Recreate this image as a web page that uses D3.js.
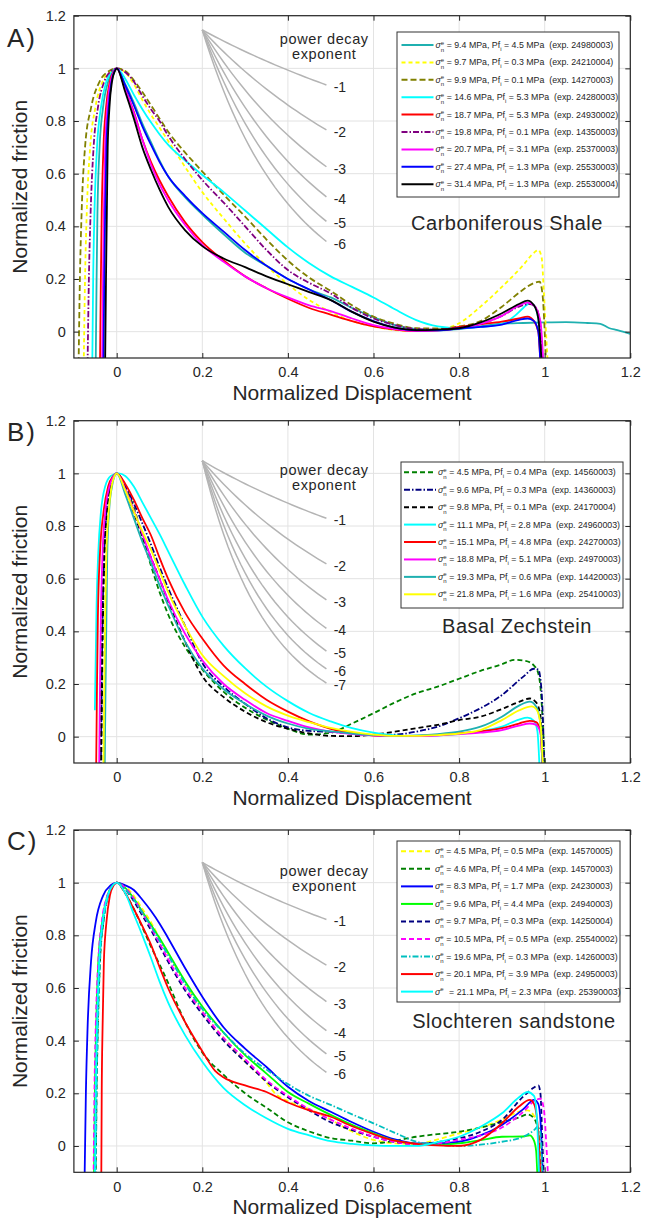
<!DOCTYPE html>
<html><head><meta charset="utf-8">
<script src="https://cdn.jsdelivr.net/npm/d3@7"></script>
<style>
body{margin:0;background:#fff}
svg{display:block}
text{font-family:"Liberation Sans",Arial,Helvetica,sans-serif;fill:#262626}
</style>
</head><body>
<svg id="chart" width="646" height="1223"></svg>
<script>
// ---------------- DATA ----------------
const xTicks = [0, 0.2, 0.4, 0.6, 0.8, 1, 1.2];
const xTickLabels = ["0", "0.2", "0.4", "0.6", "0.8", "1", "1.2"];
const yTicks = [0, 0.2, 0.4, 0.6, 0.8, 1, 1.2];
const yTickLabels = ["0", "0.2", "0.4", "0.6", "0.8", "1", "1.2"];
const panelLetters = ["A)", "B)", "C)"];
const rockNames = ["Carboniferous Shale", "Basal Zechstein", "Slochteren sandstone"];
const xTitle = "Normalized Displacement";
const yTitle = "Normalized friction";

// power decay reference curves: exponents, start value at x = 0.2, and offset scale
const decayExpShale = [-1, -2, -3, -4, -5, -6];
const decayExpZech = [-1, -2, -3, -4, -5, -6, -7];
const decayExpSloch = [-1, -2, -3, -4, -5, -6];
const decayStart = [1.146, 1.048, 1.077];
const decayScale = [1.3, 1.1, 1.15];

// Carboniferous Shale
const shaleSigma = [9.4, 9.7, 9.9, 14.6, 18.7, 19.8, 20.7, 27.4, 31.4];
const shalePf = [4.5, 0.3, 0.1, 5.3, 5.3, 0.1, 3.1, 1.3, 1.3];
const shaleExp = ["24980003","24210004","14270003","24280003","24930002","14350003","25370003","25530003","25530004"];
const shaleCurves = [
 [[-0.049,-0.12],[-0.047,0.2],[-0.045,0.45],[-0.04,0.7],[-0.032,0.85],[-0.02,0.95],[-0.008,0.99],[0,1],[0.02,0.94],[0.04,0.87],[0.06,0.79],[0.08,0.72],[0.1,0.65],[0.12,0.59],[0.16,0.51],[0.2,0.445],[0.25,0.37],[0.3,0.3],[0.35,0.25],[0.4,0.2],[0.45,0.16],[0.5,0.13],[0.55,0.09],[0.6,0.055],[0.65,0.025],[0.7,0.01],[0.75,0.005],[0.8,0.01],[0.85,0.02],[0.9,0.03],[0.95,0.033],[1,0.035],[1.05,0.036],[1.1,0.033],[1.13,0.03],[1.15,0.014],[1.17,0.006],[1.2,-0.008]],
 [[-0.077,-0.12],[-0.074,0.2],[-0.07,0.45],[-0.062,0.7],[-0.05,0.85],[-0.033,0.95],[-0.015,0.99],[0,1],[0.02,0.985],[0.04,0.94],[0.06,0.88],[0.08,0.825],[0.1,0.775],[0.12,0.725],[0.14,0.675],[0.16,0.625],[0.2,0.53],[0.25,0.43],[0.3,0.335],[0.35,0.25],[0.4,0.18],[0.45,0.12],[0.5,0.075],[0.55,0.04],[0.6,0.02],[0.65,0.006],[0.7,0.002],[0.75,0.008],[0.8,0.032],[0.85,0.095],[0.9,0.17],[0.95,0.253],[0.975,0.3],[0.985,0.31],[0.993,0.28],[0.998,0.15],[1.003,0],[1.007,-0.12]],
 [[-0.089,-0.12],[-0.086,0.2],[-0.082,0.45],[-0.074,0.7],[-0.06,0.85],[-0.04,0.95],[-0.018,0.99],[0,1],[0.02,0.99],[0.04,0.955],[0.06,0.91],[0.08,0.86],[0.1,0.81],[0.12,0.76],[0.16,0.68],[0.2,0.608],[0.25,0.52],[0.3,0.437],[0.35,0.35],[0.4,0.27],[0.45,0.205],[0.5,0.155],[0.55,0.1],[0.6,0.057],[0.65,0.03],[0.7,0.013],[0.75,0.012],[0.8,0.02],[0.85,0.04],[0.9,0.095],[0.95,0.16],[0.975,0.185],[0.988,0.19],[0.995,0.14],[1,0],[1.003,-0.12]],
 [[-0.057,-0.12],[-0.055,0.2],[-0.052,0.45],[-0.046,0.7],[-0.037,0.85],[-0.024,0.95],[-0.01,0.99],[0,1],[0.02,0.96],[0.04,0.9],[0.06,0.845],[0.08,0.795],[0.1,0.75],[0.12,0.71],[0.16,0.65],[0.2,0.595],[0.25,0.53],[0.3,0.46],[0.35,0.39],[0.4,0.32],[0.45,0.26],[0.5,0.21],[0.55,0.17],[0.6,0.13],[0.65,0.085],[0.7,0.044],[0.75,0.02],[0.8,0.013],[0.85,0.018],[0.9,0.03],[0.93,0.06],[0.95,0.09],[0.965,0.108],[0.975,0.1],[0.985,0.05],[0.99,-0.05],[0.993,-0.12]],
 [[-0.039,-0.12],[-0.037,0.2],[-0.035,0.45],[-0.031,0.7],[-0.025,0.85],[-0.016,0.95],[-0.007,0.99],[0,1],[0.02,0.92],[0.04,0.835],[0.06,0.73],[0.08,0.645],[0.1,0.575],[0.12,0.515],[0.16,0.415],[0.2,0.34],[0.25,0.27],[0.3,0.21],[0.35,0.165],[0.4,0.125],[0.45,0.09],[0.5,0.065],[0.55,0.04],[0.6,0.02],[0.65,0.008],[0.7,0.002],[0.75,0.005],[0.8,0.018],[0.85,0.028],[0.9,0.038],[0.94,0.05],[0.96,0.057],[0.975,0.04],[0.985,0],[0.99,-0.12]],
 [[-0.068,-0.12],[-0.065,0.2],[-0.061,0.45],[-0.054,0.7],[-0.044,0.85],[-0.029,0.95],[-0.013,0.99],[0,1],[0.02,0.985],[0.04,0.95],[0.06,0.895],[0.08,0.845],[0.1,0.8],[0.12,0.745],[0.16,0.655],[0.2,0.576],[0.25,0.49],[0.3,0.4],[0.35,0.31],[0.4,0.234],[0.45,0.185],[0.5,0.145],[0.55,0.09],[0.6,0.05],[0.65,0.025],[0.7,0.01],[0.75,0.008],[0.8,0.015],[0.85,0.03],[0.9,0.06],[0.94,0.095],[0.965,0.105],[0.98,0.09],[0.99,0.02],[0.995,-0.12]],
 [[-0.034,-0.12],[-0.032,0.2],[-0.03,0.45],[-0.027,0.7],[-0.022,0.85],[-0.014,0.95],[-0.006,0.99],[0,1],[0.02,0.92],[0.04,0.83],[0.06,0.73],[0.08,0.635],[0.1,0.56],[0.12,0.5],[0.16,0.405],[0.2,0.33],[0.25,0.265],[0.3,0.21],[0.35,0.165],[0.4,0.13],[0.45,0.1],[0.5,0.078],[0.55,0.05],[0.6,0.025],[0.65,0.01],[0.7,0.003],[0.75,0.005],[0.8,0.013],[0.85,0.03],[0.9,0.06],[0.94,0.1],[0.96,0.11],[0.975,0.1],[0.99,0.04],[0.997,-0.12]],
 [[-0.031,-0.12],[-0.029,0.2],[-0.027,0.45],[-0.024,0.7],[-0.019,0.85],[-0.012,0.95],[-0.005,0.99],[0,1],[0.02,0.935],[0.04,0.86],[0.06,0.78],[0.08,0.71],[0.1,0.645],[0.12,0.59],[0.16,0.515],[0.2,0.45],[0.25,0.38],[0.3,0.31],[0.35,0.25],[0.4,0.2],[0.45,0.16],[0.5,0.12],[0.55,0.075],[0.6,0.04],[0.65,0.015],[0.7,0.005],[0.75,0.005],[0.8,0.012],[0.85,0.018],[0.9,0.027],[0.94,0.045],[0.96,0.05],[0.975,0.04],[0.985,0],[0.99,-0.12]],
 [[-0.027,-0.12],[-0.025,0.2],[-0.023,0.45],[-0.021,0.7],[-0.017,0.85],[-0.011,0.95],[-0.004,0.99],[0,1],[0.02,0.91],[0.04,0.81],[0.06,0.7],[0.08,0.615],[0.1,0.54],[0.12,0.475],[0.16,0.385],[0.2,0.325],[0.25,0.278],[0.3,0.245],[0.35,0.21],[0.4,0.18],[0.45,0.15],[0.5,0.12],[0.55,0.075],[0.6,0.038],[0.65,0.015],[0.7,0.006],[0.75,0.008],[0.8,0.013],[0.85,0.035],[0.9,0.07],[0.94,0.105],[0.96,0.118],[0.975,0.1],[0.985,0.05],[0.993,-0.12]]
];

// Basal Zechstein
const zechSigma = [4.5, 9.6, 9.8, 11.1, 15.1, 18.8, 19.3, 21.8];
const zechPf = [0.4, 0.3, 0.1, 2.8, 4.8, 5.1, 0.6, 1.6];
const zechExp = ["14560003","14360003","24170004","24960003","24270003","24970003","14420003","25410003"];
const zechCurves = [
 [[-0.039,-0.12],[-0.037,0.2],[-0.035,0.45],[-0.031,0.7],[-0.025,0.85],[-0.016,0.95],[-0.007,0.99],[0,1],[0.02,0.95],[0.04,0.87],[0.06,0.76],[0.08,0.65],[0.1,0.55],[0.12,0.465],[0.16,0.34],[0.2,0.255],[0.25,0.17],[0.3,0.11],[0.35,0.065],[0.4,0.03],[0.45,0.008],[0.5,0.015],[0.55,0.05],[0.6,0.089],[0.65,0.13],[0.7,0.165],[0.75,0.19],[0.8,0.22],[0.85,0.25],[0.9,0.275],[0.93,0.292],[0.955,0.288],[0.975,0.27],[0.985,0.24],[0.992,0.15],[0.997,0],[1,-0.12]],
 [[-0.037,-0.12],[-0.035,0.2],[-0.033,0.45],[-0.029,0.7],[-0.024,0.85],[-0.015,0.95],[-0.006,0.99],[0,1],[0.02,0.955],[0.04,0.886],[0.06,0.81],[0.08,0.73],[0.1,0.645],[0.12,0.565],[0.16,0.42],[0.2,0.28],[0.25,0.19],[0.3,0.125],[0.35,0.07],[0.4,0.035],[0.45,0.022],[0.5,0.018],[0.55,0.012],[0.6,0.006],[0.65,0.008],[0.7,0.019],[0.75,0.038],[0.8,0.07],[0.85,0.108],[0.9,0.158],[0.95,0.228],[0.975,0.258],[0.985,0.255],[0.99,0.22],[0.995,0.1],[0.999,-0.12]],
 [[-0.036,-0.12],[-0.034,0.2],[-0.032,0.45],[-0.028,0.7],[-0.023,0.85],[-0.015,0.95],[-0.006,0.99],[0,1],[0.02,0.94],[0.04,0.85],[0.06,0.76],[0.08,0.68],[0.1,0.6],[0.12,0.515],[0.16,0.36],[0.2,0.23],[0.25,0.15],[0.3,0.095],[0.35,0.055],[0.4,0.03],[0.45,0.012],[0.5,0.003],[0.55,0.002],[0.6,0.008],[0.65,0.019],[0.7,0.032],[0.75,0.045],[0.8,0.063],[0.85,0.076],[0.9,0.105],[0.94,0.132],[0.965,0.145],[0.98,0.13],[0.99,0.08],[0.995,-0.12]],
 [[-0.051,0.1],[-0.049,0.3],[-0.047,0.5],[-0.043,0.7],[-0.037,0.85],[-0.027,0.95],[-0.014,0.99],[0.004,1],[0.02,0.99],[0.04,0.95],[0.06,0.89],[0.08,0.83],[0.1,0.77],[0.12,0.705],[0.16,0.575],[0.2,0.456],[0.25,0.345],[0.3,0.26],[0.35,0.19],[0.4,0.135],[0.45,0.09],[0.5,0.058],[0.55,0.032],[0.6,0.015],[0.65,0.005],[0.7,0.003],[0.75,0.005],[0.8,0.01],[0.85,0.02],[0.9,0.038],[0.94,0.065],[0.96,0.072],[0.975,0.06],[0.983,0.02],[0.988,-0.12]],
 [[-0.048,-0.12],[-0.046,0.2],[-0.044,0.45],[-0.039,0.7],[-0.031,0.85],[-0.02,0.95],[-0.008,0.99],[0,1],[0.02,0.96],[0.04,0.9],[0.06,0.83],[0.08,0.765],[0.1,0.68],[0.12,0.6],[0.16,0.47],[0.2,0.373],[0.25,0.27],[0.3,0.2],[0.35,0.14],[0.4,0.095],[0.45,0.058],[0.5,0.03],[0.55,0.014],[0.6,0.004],[0.65,0.002],[0.7,0.003],[0.75,0.007],[0.8,0.013],[0.85,0.02],[0.9,0.032],[0.94,0.05],[0.965,0.06],[0.98,0.055],[0.99,0.02],[0.995,-0.12]],
 [[-0.041,-0.12],[-0.039,0.2],[-0.037,0.45],[-0.033,0.7],[-0.027,0.85],[-0.017,0.95],[-0.007,0.99],[0,1],[0.02,0.94],[0.04,0.86],[0.06,0.77],[0.08,0.68],[0.1,0.6],[0.12,0.52],[0.16,0.39],[0.2,0.29],[0.25,0.2],[0.3,0.14],[0.35,0.09],[0.4,0.06],[0.45,0.035],[0.5,0.019],[0.55,0.01],[0.6,0.005],[0.65,0.002],[0.7,0.002],[0.75,0.004],[0.8,0.01],[0.85,0.015],[0.9,0.025],[0.94,0.042],[0.965,0.05],[0.98,0.045],[0.99,0.015],[0.995,-0.12]],
 [[-0.028,-0.12],[-0.026,0.2],[-0.024,0.45],[-0.022,0.7],[-0.018,0.85],[-0.011,0.95],[-0.005,0.99],[0,1],[0.02,0.92],[0.04,0.83],[0.06,0.74],[0.08,0.66],[0.1,0.575],[0.12,0.5],[0.16,0.36],[0.2,0.26],[0.25,0.18],[0.3,0.125],[0.35,0.08],[0.4,0.05],[0.45,0.03],[0.5,0.02],[0.55,0.012],[0.6,0.006],[0.65,0.003],[0.7,0.005],[0.75,0.01],[0.8,0.019],[0.85,0.038],[0.9,0.076],[0.94,0.118],[0.965,0.133],[0.98,0.115],[0.99,0.05],[0.995,-0.12]],
 [[-0.031,-0.12],[-0.029,0.2],[-0.027,0.45],[-0.024,0.7],[-0.019,0.85],[-0.012,0.95],[-0.005,0.99],[0,1],[0.02,0.935],[0.04,0.855],[0.06,0.78],[0.08,0.71],[0.1,0.63],[0.12,0.55],[0.16,0.42],[0.2,0.31],[0.25,0.23],[0.3,0.165],[0.35,0.115],[0.4,0.08],[0.45,0.055],[0.5,0.033],[0.55,0.018],[0.6,0.008],[0.65,0.003],[0.7,0.003],[0.75,0.006],[0.8,0.012],[0.85,0.025],[0.9,0.063],[0.94,0.1],[0.97,0.115],[0.98,0.105],[0.99,0.05],[0.996,-0.12]]
];

// Slochteren sandstone
const slochSigma = [4.5, 4.6, 8.3, 9.6, 9.7, 10.5, 19.6, 20.1, 21.1];
const slochPf = [0.5, 0.4, 1.7, 4.4, 0.3, 0.5, 0.3, 3.9, 2.3];
const slochExp = ["14570005","14570003","24230003","24940003","14250004","25540002","14260003","24950003","25390003"];
const slochCurves = [
 [[-0.051,-0.12],[-0.049,0.2],[-0.046,0.45],[-0.041,0.7],[-0.033,0.85],[-0.021,0.95],[-0.009,0.99],[0,1],[0.02,0.985],[0.04,0.95],[0.06,0.9],[0.08,0.85],[0.1,0.79],[0.12,0.73],[0.16,0.62],[0.2,0.51],[0.25,0.41],[0.3,0.32],[0.35,0.24],[0.37,0.2],[0.4,0.17],[0.45,0.14],[0.5,0.1],[0.55,0.055],[0.6,0.023],[0.65,0.01],[0.7,0.008],[0.75,0.025],[0.8,0.048],[0.85,0.07],[0.9,0.1],[0.94,0.13],[0.96,0.135],[0.975,0.115],[0.985,0.06],[0.993,-0.12]],
 [[-0.049,-0.12],[-0.047,0.2],[-0.044,0.45],[-0.039,0.7],[-0.031,0.85],[-0.02,0.95],[-0.008,0.99],[0,1],[0.02,0.96],[0.04,0.9],[0.06,0.83],[0.08,0.757],[0.1,0.69],[0.12,0.62],[0.16,0.47],[0.2,0.355],[0.25,0.27],[0.3,0.2],[0.35,0.145],[0.4,0.09],[0.45,0.055],[0.5,0.03],[0.55,0.02],[0.6,0.01],[0.65,0.02],[0.7,0.035],[0.75,0.045],[0.8,0.054],[0.85,0.07],[0.9,0.09],[0.94,0.108],[0.96,0.12],[0.975,0.105],[0.985,0.05],[0.99,-0.12]],
 [[-0.075,-0.12],[-0.072,0.2],[-0.068,0.45],[-0.06,0.7],[-0.049,0.85],[-0.032,0.95],[-0.014,0.99],[0,1],[0.02,0.99],[0.04,0.972],[0.06,0.935],[0.08,0.893],[0.1,0.845],[0.12,0.79],[0.16,0.675],[0.2,0.567],[0.25,0.45],[0.3,0.37],[0.35,0.3],[0.4,0.225],[0.45,0.17],[0.5,0.13],[0.55,0.09],[0.6,0.054],[0.65,0.025],[0.7,0.01],[0.75,0.01],[0.8,0.016],[0.85,0.04],[0.9,0.08],[0.95,0.14],[0.975,0.175],[0.985,0.16],[0.99,0.1],[0.996,-0.12]],
 [[-0.053,-0.12],[-0.051,0.2],[-0.048,0.45],[-0.043,0.7],[-0.034,0.85],[-0.022,0.95],[-0.009,0.99],[0,1],[0.02,0.98],[0.04,0.94],[0.06,0.89],[0.08,0.84],[0.1,0.79],[0.12,0.735],[0.16,0.625],[0.2,0.53],[0.25,0.43],[0.3,0.345],[0.35,0.275],[0.4,0.205],[0.45,0.16],[0.5,0.118],[0.55,0.08],[0.6,0.048],[0.65,0.02],[0.7,0.008],[0.75,0.005],[0.8,0.01],[0.85,0.022],[0.9,0.035],[0.95,0.036],[0.965,0.04],[0.975,0.02],[0.98,-0.02],[0.983,-0.12]],
 [[-0.051,-0.12],[-0.049,0.2],[-0.046,0.45],[-0.041,0.7],[-0.033,0.85],[-0.021,0.95],[-0.009,0.99],[0,1],[0.02,0.975],[0.04,0.93],[0.06,0.875],[0.08,0.82],[0.1,0.76],[0.12,0.7],[0.16,0.59],[0.2,0.5],[0.25,0.4],[0.3,0.32],[0.35,0.245],[0.4,0.185],[0.45,0.135],[0.5,0.09],[0.55,0.06],[0.6,0.035],[0.65,0.015],[0.7,0.007],[0.75,0.015],[0.8,0.029],[0.85,0.054],[0.9,0.099],[0.95,0.188],[0.975,0.222],[0.985,0.23],[0.99,0.2],[0.995,0],[0.998,-0.12]],
 [[-0.054,-0.12],[-0.052,0.2],[-0.049,0.45],[-0.043,0.7],[-0.035,0.85],[-0.022,0.95],[-0.009,0.99],[0,1],[0.02,0.98],[0.04,0.94],[0.06,0.885],[0.08,0.83],[0.1,0.77],[0.12,0.71],[0.16,0.6],[0.2,0.51],[0.25,0.41],[0.3,0.33],[0.35,0.25],[0.4,0.19],[0.45,0.14],[0.5,0.1],[0.55,0.065],[0.6,0.035],[0.65,0.015],[0.7,0.006],[0.75,0.01],[0.8,0.023],[0.85,0.04],[0.9,0.07],[0.95,0.13],[0.975,0.17],[0.99,0.18],[0.998,0.14],[1.004,0],[1.008,-0.12]],
 [[-0.049,-0.12],[-0.047,0.2],[-0.044,0.45],[-0.039,0.7],[-0.031,0.85],[-0.02,0.95],[-0.008,0.99],[0,1],[0.02,0.975],[0.04,0.935],[0.06,0.885],[0.08,0.835],[0.1,0.78],[0.12,0.725],[0.16,0.615],[0.2,0.52],[0.25,0.43],[0.3,0.35],[0.35,0.29],[0.4,0.235],[0.45,0.19],[0.5,0.156],[0.55,0.12],[0.6,0.086],[0.65,0.05],[0.7,0.016],[0.75,0.005],[0.8,0],[0.85,0.005],[0.9,0.016],[0.95,0.035],[0.975,0.06],[0.985,0.075],[0.99,0.05],[0.995,-0.12]],
 [[-0.036,-0.12],[-0.035,0.2],[-0.033,0.45],[-0.03,0.7],[-0.024,0.85],[-0.016,0.95],[-0.007,0.99],[0,1],[0.02,0.96],[0.04,0.9],[0.06,0.835],[0.08,0.765],[0.1,0.68],[0.12,0.6],[0.16,0.47],[0.2,0.36],[0.23,0.285],[0.25,0.26],[0.3,0.23],[0.35,0.205],[0.4,0.165],[0.45,0.135],[0.5,0.111],[0.55,0.075],[0.6,0.045],[0.65,0.02],[0.7,0.008],[0.75,0.002],[0.8,0],[0.85,0.023],[0.9,0.086],[0.94,0.15],[0.965,0.175],[0.975,0.16],[0.985,0.05],[0.99,-0.12]],
 [[-0.051,-0.12],[-0.049,0.2],[-0.046,0.45],[-0.041,0.7],[-0.033,0.85],[-0.021,0.95],[-0.009,0.99],[0,1],[0.02,0.96],[0.04,0.88],[0.06,0.8],[0.08,0.715],[0.1,0.625],[0.12,0.545],[0.16,0.42],[0.2,0.32],[0.25,0.22],[0.3,0.155],[0.35,0.105],[0.4,0.065],[0.45,0.04],[0.5,0.018],[0.55,0.008],[0.6,0.002],[0.65,0],[0.7,0],[0.75,0.015],[0.8,0.035],[0.85,0.073],[0.9,0.124],[0.94,0.185],[0.96,0.205],[0.975,0.19],[0.982,0.1],[0.987,-0.12]]
];

// ---------------- STYLES / LAYOUT ----------------
const shaleColors = ["#1fb0b0","#ffff00","#808000","#00ffff","#ff0000","#800080","#ff00ff","#0000ff","#000000"];
const shaleDash = [null,"4,3","6,3",null,null,"6,2,1.5,2",null,null,null];
const zechColors = ["#008000","#000080","#000000","#00ffff","#ff0000","#ff00ff","#1fb0b0","#ffff00"];
const zechDash = ["5,3","6,2,1.5,2","5,3",null,null,null,null,null];
const slochColors = ["#ffff00","#008000","#0000ff","#00ff00","#000080","#ff00ff","#00bfbf","#ff0000","#00ffff"];
const slochDash = ["5,3","5,3",null,null,"5,3","5,3","6,2,1.5,2",null,null];
const slochShowN = [true,true,true,true,true,true,true,true,false];

const panels = [
  {curves: shaleCurves, sig: shaleSigma, pf: shalePf, ex: shaleExp, colors: shaleColors, dash: shaleDash,
   decay: decayExpShale, top: 15.7, bottom: 358, legend: [397, 32, 222, 165], legX: 401.5, legY0: 45, legDy: 17.4,
   nameX: 507, nameY: 230, letterY: 47},
  {curves: zechCurves, sig: zechSigma, pf: zechPf, ex: zechExp, colors: zechColors, dash: zechDash,
   decay: decayExpZech, top: 420.7, bottom: 763, legend: [401, 462, 222, 146], legX: 404, legY0: 472.3, legDy: 17.43,
   nameX: 517, nameY: 633, letterY: 441},
  {curves: slochCurves, sig: slochSigma, pf: slochPf, ex: slochExp, colors: slochColors, dash: slochDash,
   decay: decayExpSloch, top: 830, bottom: 1172.3, legend: [397, 841, 223, 161], legX: 401, legY0: 851.3, legDy: 17.54,
   nameX: 514, nameY: 1028, letterY: 850, showN: slochShowN}
];

const svg = d3.select("#chart");
const x = d3.scaleLinear().domain([-0.1, 1.2]).range([73.9, 630.3]);

panels.forEach((p, i) => {
  const y = d3.scaleLinear().domain([-0.1, 1.2]).range([p.bottom, p.top]);
  const g = svg.append("g");
  const clipId = "clip" + i;
  svg.append("clipPath").attr("id", clipId).append("rect")
    .attr("x", x(-0.1)).attr("y", p.top).attr("width", x(1.2) - x(-0.1)).attr("height", p.bottom - p.top);

  // grid
  g.append("g").selectAll("line").data(xTicks).join("line")
    .attr("x1", d => x(d)).attr("x2", d => x(d)).attr("y1", p.top).attr("y2", p.bottom)
    .attr("stroke", "#e3e3e3").attr("stroke-width", 1);
  g.append("g").selectAll("line").data(yTicks).join("line")
    .attr("y1", d => y(d)).attr("y2", d => y(d)).attr("x1", x(-0.1)).attr("x2", x(1.2))
    .attr("stroke", "#e3e3e3").attr("stroke-width", 1);

  const plot = g.append("g").attr("clip-path", `url(#${clipId})`);

  // power decay reference curves
  const dStart = decayStart[i], dScale = decayScale[i];
  const decayX = d3.range(0.2, 0.4901, 0.01);
  const decayLine = d3.line().x(d => x(d[0])).y(d => y(d[1]));
  p.decay.forEach(n => {
    const pts = decayX.map(xx => [xx, dStart * Math.pow(1 + (xx - 0.2) / dScale, n)]);
    plot.append("path").attr("d", decayLine(pts)).attr("fill", "none")
      .attr("stroke", "#b4b4b4").attr("stroke-width", 1.5);
    const endY = pts[pts.length - 1][1];
    g.append("text").attr("x", x(0.507)).attr("y", y(endY) + 7)
      .style("font-size", "14px").text("-" + Math.abs(n));
  });
  const lx = x(0.485);
  g.append("text").attr("x", lx).attr("y", y(dStart) + 14).attr("text-anchor", "middle")
    .style("font-size", "14.5px").style("letter-spacing", "0.6px").text("power decay");
  g.append("text").attr("x", lx).attr("y", y(dStart) + 29).attr("text-anchor", "middle")
    .style("font-size", "14.5px").style("letter-spacing", "0.6px").text("exponent");

  // data curves
  const line = d3.line().x(d => x(d[0])).y(d => y(d[1])).curve(d3.curveMonotoneX);
  p.curves.forEach((c, k) => {
    plot.append("path").attr("d", line(c)).attr("fill", "none")
      .attr("stroke", p.colors[k]).attr("stroke-width", 1.8)
      .attr("stroke-dasharray", p.dash[k]);
  });

  // axes (inward ticks on all sides)
  const fmtX = d => xTickLabels[xTicks.indexOf(d)];
  const fmtY = d => yTickLabels[yTicks.indexOf(d)];
  const axB = g.append("g").attr("transform", `translate(0,${p.bottom})`)
    .call(d3.axisBottom(x).tickValues(xTicks).tickSize(-5).tickPadding(9).tickFormat(fmtX));
  const axT = g.append("g").attr("transform", `translate(0,${p.top})`)
    .call(d3.axisTop(x).tickValues(xTicks).tickSize(-5).tickFormat(""));
  const axL = g.append("g").attr("transform", `translate(${x(-0.1)},0)`)
    .call(d3.axisLeft(y).tickValues(yTicks).tickSize(-5).tickPadding(8).tickFormat(fmtY));
  const axR = g.append("g").attr("transform", `translate(${x(1.2)},0)`)
    .call(d3.axisRight(y).tickValues(yTicks).tickSize(-5).tickFormat(""));
  [axB, axT, axL, axR].forEach(a => {
    a.select(".domain").remove();
    a.selectAll(".tick line").attr("stroke", "#262626").attr("stroke-width", 1);
    a.selectAll(".tick text").attr("fill", "#262626")
      .style("font-family", '"Liberation Sans",Arial,sans-serif').style("font-size", "14.5px");
  });
  g.append("rect").attr("x", x(-0.1)).attr("y", p.top).attr("width", x(1.2) - x(-0.1))
    .attr("height", p.bottom - p.top).attr("fill", "none").attr("stroke", "#262626").attr("stroke-width", 1.2);

  // titles
  g.append("text").attr("x", (x(-0.1) + x(1.2)) / 2).attr("y", p.bottom + 42)
    .attr("text-anchor", "middle").style("font-size", "21px").text(xTitle);
  g.append("text").attr("transform", `translate(27,${(p.top + p.bottom) / 2}) rotate(-90)`)
    .attr("text-anchor", "middle").style("font-size", "21px").text(yTitle);
  g.append("text").attr("x", 7).attr("y", p.letterY).style("font-size", "26px")
    .style("letter-spacing", "2px").text(panelLetters[i]);
  g.append("text").attr("x", p.nameX).attr("y", p.nameY).attr("text-anchor", "middle")
    .style("font-size", "20px").style("letter-spacing", "0.5px").text(rockNames[i]);

  // legend
  const [bx, by, bw, bh] = p.legend;
  g.append("rect").attr("x", bx).attr("y", by).attr("width", bw).attr("height", bh)
    .attr("fill", "#fff").attr("stroke", "#333").attr("stroke-width", 1);
  p.sig.forEach((s, k) => {
    const ry = p.legY0 + k * p.legDy;
    g.append("line").attr("x1", p.legX).attr("x2", p.legX + 32).attr("y1", ry).attr("y2", ry)
      .attr("stroke", p.colors[k]).attr("stroke-width", 2).attr("stroke-dasharray", p.dash[k]);
    const t = g.append("text").attr("x", p.legX + 34).attr("y", ry + 3)
      .style("font-size", "8.8px").style("white-space", "pre");
    t.append("tspan").style("font-style", "italic").text("σ");
    t.append("tspan").attr("dy", -3.5).style("font-size", "6px").text("e");
    const showN = p.showN ? p.showN[k] : true;
    if (showN) {
      t.append("tspan").attr("dx", -3.3).attr("dy", 7).style("font-size", "6px").text("n");
      t.append("tspan").attr("dy", -3.5).text(` = ${s.toFixed(1)} MPa, Pf`);
    } else {
      t.append("tspan").attr("dx", 3).attr("dy", 3.5).text(` = ${s.toFixed(1)} MPa, Pf`);
    }
    t.append("tspan").attr("dy", 3).style("font-size", "6px").text("i");
    t.append("tspan").attr("dy", -3).text(` = ${p.pf[k].toFixed(1)} MPa  (exp. ${p.ex[k]})`);
  });
});
</script>
</body></html>
